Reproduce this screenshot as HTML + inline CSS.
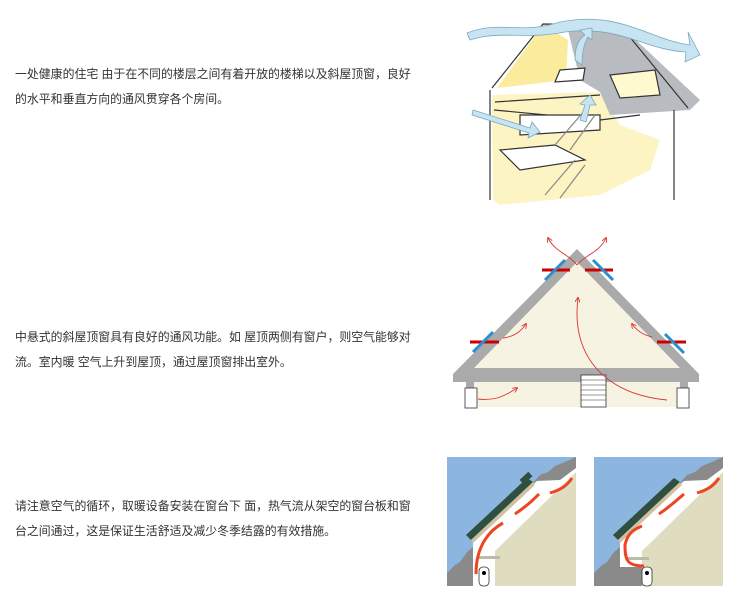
<!DOCTYPE html>
<html><head><meta charset="utf-8">
<style>
html,body{margin:0;padding:0;background:#fff;}
body{width:744px;height:610px;position:relative;overflow:hidden;font-family:"Liberation Sans","Noto Sans CJK SC",sans-serif;}
.t{position:absolute;left:15px;font-size:11.9px;line-height:25px;color:#333;width:400px;white-space:nowrap;}
svg{position:absolute;left:0;top:0;}
</style></head><body>
<div class="t" style="top:62px">一处健康的住宅 由于在不同的楼层之间有着开放的楼梯以及斜屋顶窗，良好<br>的水平和垂直方向的通风贯穿各个房间。</div>
<div class="t" style="top:325px">中悬式的斜屋顶窗具有良好的通风功能。如 屋顶两侧有窗户，则空气能够对<br>流。室内暖 空气上升到屋顶，通过屋顶窗排出室外。</div>
<div class="t" style="top:494px">请注意空气的循环，取暖设备安装在窗台下 面，热气流从架空的窗台板和窗<br>台之间通过，这是保证生活舒适及减少冬季结露的有效措施。</div>
<svg width="744" height="610" viewBox="0 0 744 610">
<defs>
<marker id="ah" markerWidth="6" markerHeight="6" refX="5" refY="3" orient="auto"><path d="M0,0 L6,3 L0,6" fill="none" stroke="#d33" stroke-width="1"/></marker>
</defs>
<!-- House sketch -->
<g stroke="#333" stroke-width="1.2" fill="none">
<path d="M497 88 L543 25 L568 40 L566 80 L497 88Z" fill="#fbeb9c" stroke="none"/>
<path d="M492 95 L600 92 L620 125 L660 140 L650 170 L600 195 L500 205 L493 200Z" fill="#fdf4c4" stroke="none"/>
<path d="M568 30 L620 25 L700 100 L690 110 L610 115 L600 92 L580 80 Z" fill="#b8bcc0" stroke="none"/>
<path d="M492 88 L543 24 L620 25 L688 108"/>
<path d="M490 90 L490 200 M674 110 L674 200"/>
<path d="M495 102 L600 95 M494 110 L600 120 L640 115"/>
<path d="M500 150 L555 145 L585 160 L520 170Z" fill="#fff"/>
<path d="M520 115 L600 115 L600 130 L520 135Z" fill="#fff"/>
<path d="M555 145 L585 110 M570 150 L595 115" stroke="#888"/>
<path d="M545 195 L575 160 M560 198 L585 165" stroke="#888"/>
<path d="M610 75 L655 70 L660 95 L620 98Z" fill="#fff9d0"/>
<path d="M560 70 L585 68 L583 80 L555 82Z" fill="#fff"/>
</g>
<g fill="#c8e4f2" stroke="#7aa8c0" stroke-width="0.8">
<path d="M467 33 C500 20 520 35 560 22 C620 10 650 40 690 45 L688 32 L700 55 L685 62 L686 52 C645 50 620 25 565 32 C525 40 500 30 470 40Z"/>
<path d="M575 60 C575 45 580 38 585 35 L580 30 L592 28 L592 40 L588 37 C583 45 582 55 582 65Z"/>
<path d="M473 110 L530 128 L532 122 L540 132 L528 138 L529 133 L472 115Z"/>
<path d="M580 120 L585 105 L580 104 L590 95 L596 105 L590 105 L586 122Z"/>
</g>
<!-- Roof section -->
<g>
<polygon points="577,249 453,374 699,374" fill="#aaa"/>
<polygon points="577,262 474,368 680,368" fill="#f7f3e2"/>
<rect x="474" y="374" width="206" height="33" fill="#f7f3e2"/>
<rect x="453" y="374" width="246" height="8" fill="#aaa"/>
<rect x="466" y="382" width="8" height="25" fill="#aaa"/>
<rect x="680" y="382" width="8" height="25" fill="#aaa"/>
<rect x="465" y="388" width="12" height="20" fill="#fff" stroke="#333" stroke-width="0.8"/>
<rect x="677" y="388" width="12" height="20" fill="#fff" stroke="#333" stroke-width="0.8"/>
<rect x="581" y="375" width="25" height="32" fill="#fff" stroke="#333" stroke-width="0.8"/>
<g stroke="#333" stroke-width="0.6"><line x1="581" y1="380" x2="606" y2="380"/><line x1="581" y1="385" x2="606" y2="385"/><line x1="581" y1="390" x2="606" y2="390"/><line x1="581" y1="395" x2="606" y2="395"/><line x1="581" y1="400" x2="606" y2="400"/></g>
<g stroke="#c00" stroke-width="3"><line x1="542" y1="270" x2="570" y2="270"/><line x1="585" y1="270" x2="613" y2="270"/><line x1="470" y1="342" x2="499" y2="342"/><line x1="657" y1="342" x2="686" y2="342"/></g>
<g stroke="#2a8fd0" stroke-width="3"><line x1="545" y1="280" x2="565" y2="260"/><line x1="593" y1="260" x2="613" y2="280"/><line x1="473" y1="352" x2="493" y2="332"/><line x1="665" y1="334" x2="684" y2="353"/></g>
<g stroke="#d33" stroke-width="0.9" fill="none" marker-end="url(#ah)">
<path d="M577 265 C570 255 555 252 548 238"/>
<path d="M577 265 C585 255 600 252 606 238"/>
<path d="M503 338 C512 337 520 333 526 324"/>
<path d="M652 337 C643 335 637 331 632 324"/>
<path d="M667 400 C610 395 570 360 578 298"/>
<path d="M478 399 C495 401 505 396 517 388"/>
</g>
</g>
<!-- Eave panels -->
<g id="p1">
<rect x="447" y="457" width="129" height="129" fill="#8cb6e0"/>
<polygon points="447,586 447,573 455,565 460,562 467,552 473,547 473,586" fill="#8a8a8a"/>
<polygon points="530,486 540,475 548,472 555,466 565,462 576,457 576,470 560,480 537,481" fill="#8a8a8a"/>
<polygon points="473,586 473,540 537,481 560,480 576,468 576,586" fill="#fff"/>
<polygon points="495,586 495,551 576,472 576,586" fill="#e0dcc0"/>
<polygon points="466,535 527,478 533,482 471,540" fill="#2f5040"/>
<rect x="520" y="475" width="12" height="6" fill="#2f5040" transform="rotate(-43 526 478)"/>
<polygon points="471,540 533,482 535,485 473,543" fill="#cfc0a0"/>
<rect x="479" y="556" width="21" height="3" fill="#bba"/>
<rect x="479" y="567" width="10" height="19" rx="4" fill="#fff" stroke="#333" stroke-width="0.8"/>
<circle cx="484" cy="573" r="2" fill="#000"/>
<g stroke="#ee4422" stroke-width="3" fill="none"><path d="M476 574 C476 545 490 530 503 523"/><path d="M515 514 C528 505 533 500 539 494"/><path d="M550 493 C560 490 567 486 572 478"/></g>
</g>
<g transform="translate(147,0)">
<rect x="447" y="457" width="129" height="129" fill="#8cb6e0"/>
<polygon points="447,586 447,573 455,565 460,562 467,552 473,547 473,567 495,567 495,586" fill="#8a8a8a"/>
<polygon points="530,486 540,475 548,472 555,466 565,462 576,457 576,470 560,480 537,481" fill="#8a8a8a"/>
<polygon points="473,567 473,540 537,481 560,480 576,468 576,586 495,586 495,567" fill="#fff"/>
<polygon points="495,586 495,551 576,472 576,586" fill="#e0dcc0"/>
<polygon points="466,535 527,478 533,482 471,540" fill="#2f5040"/>
<polygon points="471,540 533,482 535,485 473,543" fill="#cfc0a0"/>
<rect x="481" y="557" width="21" height="3" fill="#bba"/>
<rect x="495" y="567" width="10" height="19" rx="4" fill="#fff" stroke="#333" stroke-width="0.8"/>
<circle cx="500" cy="573" r="2" fill="#000"/>
<g stroke="#ee4422" stroke-width="3" fill="none"><path d="M497 566 C480 566 478 560 478 545 C480 535 485 530 495 526"/><path d="M512 514 C525 505 530 500 537 494"/><path d="M550 493 C560 490 567 486 572 478"/></g>
</g>
</svg>
</body></html>
